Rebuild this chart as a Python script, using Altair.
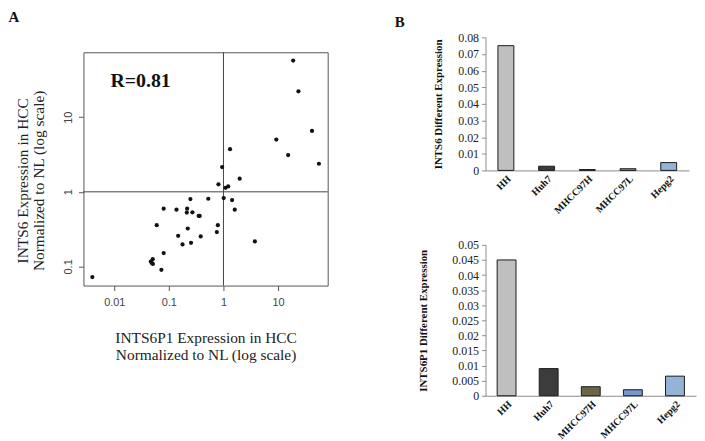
import altair as alt
import pandas as pd

# ---------------- Panel A : scatter (log/log) ----------------
ints6p1_hcc = [18.9, 23.6, 41.8, 9.29, 15.3, 56.0, 1.32, 0.946, 1.98, 0.81,
               1.09, 1.22, 1.01, 1.44, 1.61, 0.527, 0.248, 0.0804, 0.138, 0.216,
               0.213, 0.27, 0.352, 0.367, 0.06, 0.222, 0.789, 0.757, 0.148, 0.383,
               0.178, 0.255, 3.76, 0.0804, 0.0467, 0.0507, 0.0487, 0.051, 0.073, 0.00397]
ints6_hcc = [57.6, 22.3, 6.55, 5.02, 3.11, 2.38, 3.73, 2.15, 1.50, 1.26,
             1.13, 1.18, 0.824, 0.775, 0.576, 0.807, 0.80, 0.594, 0.576, 0.594,
             0.526, 0.531, 0.475, 0.475, 0.357, 0.322, 0.357, 0.288, 0.257, 0.252,
             0.197, 0.207, 0.216, 0.151, 0.116, 0.125, 0.111, 0.108, 0.0898, 0.0718]
ref_line = [1]
r_label = ["R=0.81"]
scatter_x_ticks = [0.01, 0.1, 1, 10]
scatter_y_ticks = [0.1, 1, 10]

# ---------------- Panel B : bar charts ----------------
cell_lines = ["HH", "Huh7", "MHCC97H", "MHCC97L", "Hepg2"]
ints6_diff = [0.075, 0.0025, 0.0005, 0.001, 0.0047]
ints6p1_diff = [0.045, 0.009, 0.003, 0.002, 0.0065]
ints6_colors = ["#bfbfbf", "#3c3c3c", "#6b6548", "#7399cc", "#95b3d7"]
ints6p1_colors = ["#bfbfbf", "#3c3c3c", "#938953", "#558ed5", "#95b3d7"]
ints6_ticks = [0, 0.01, 0.02, 0.03, 0.04, 0.05, 0.06, 0.07, 0.08]
ints6p1_ticks = [0, 0.005, 0.01, 0.015, 0.02, 0.025, 0.03, 0.035, 0.04, 0.045, 0.05]

SERIF = "Liberation Serif"
SANS = "Liberation Sans"

xs = alt.Scale(type="log", domain=[0.00273, 81], nice=False)
ys = alt.Scale(type="log", domain=[0.0553, 74.4], nice=False)

x_axis = alt.Axis(values=scatter_x_ticks, format="~g", grid=False, domain=False,
                  title=["INTS6P1 Expression in HCC", "Normalized to NL (log scale)"],
                  tickColor="#555", tickSize=5, labelColor="#444", labelFont=SANS,
                  labelFontSize=11, labelPadding=6, titleFont=SERIF, titleFontSize=15.5,
                  titleFontWeight="normal", titleColor="#222", titlePadding=23,
                  titleLineHeight=17)
y_axis = alt.Axis(values=scatter_y_ticks, format="~g", grid=False, domain=False,
                  title=["INTS6 Expression in HCC", "Normalized to NL (log scale)"],
                  tickColor="#555", tickSize=5, labelColor="#444", labelFont=SANS,
                  labelFontSize=11, labelPadding=5, labelAngle=270, labelAlign="center",
                  labelBaseline="bottom", titleFont=SERIF, titleFontSize=15.5,
                  titleFontWeight="normal", titleColor="#222", titlePadding=16,
                  titleLineHeight=16, titleY=129)

sc_df = pd.DataFrame({"p1": ints6p1_hcc, "s6": ints6_hcc})
points = alt.Chart(sc_df).mark_circle(size=18, color="#111", opacity=1).encode(
    x=alt.X("p1:Q", scale=xs, axis=x_axis),
    y=alt.Y("s6:Q", scale=ys, axis=y_axis),
)
ref_df = pd.DataFrame({"v": ref_line})
vline = alt.Chart(ref_df).mark_rule(color="#444", strokeWidth=1).encode(
    x=alt.X("v:Q", scale=xs, axis=x_axis))
hline = alt.Chart(ref_df).mark_rule(color="#444", strokeWidth=1).encode(
    y=alt.Y("v:Q", scale=ys, axis=y_axis))
r_text = alt.Chart(pd.DataFrame({"label": r_label})).mark_text(
    font=SERIF, fontSize=20, fontWeight="bold", color="#111", align="left", baseline="middle"
).encode(x=alt.datum(0.0085), y=alt.datum(30.6), text="label:N")

scatter = alt.layer(vline, hline, points, r_text).properties(
    width=246, height=235, view=alt.ViewBackground(stroke="#555", strokeWidth=1))

spacer = alt.Chart(pd.DataFrame({"s": [""]})).mark_text().encode(text="s:N").properties(
    width=246, height=1)

left = alt.vconcat(spacer, scatter, spacing=8).properties(
    title=alt.TitleParams("A", anchor="start", dx=-7, offset=7, font=SERIF, fontSize=15,
                          fontWeight="bold", color="#111"))


def bar_panel(values, colors, ticks, dmax, title, width, height, bar_w, title_pad):
    df = pd.DataFrame({"cell": cell_lines, "value": values})
    return alt.Chart(df).mark_bar(size=bar_w, stroke="#1a1a1a", strokeWidth=1).encode(
        x=alt.X("cell:N", sort=cell_lines, scale=alt.Scale(paddingInner=0, paddingOuter=0),
                axis=alt.Axis(title=None, labelAngle=-45, labelFont=SERIF, labelFontSize=10,
                              labelFontWeight="bold", labelColor="#111", ticks=False,
                              domainColor="#8c8c8c", labelPadding=3)),
        y=alt.Y("value:Q", scale=alt.Scale(domain=[0, dmax], nice=False, zero=True),
                axis=alt.Axis(values=ticks, format="~g", grid=False, title=title,
                              titleFont=SERIF, titleFontSize=11, titleFontWeight="bold",
                              titleColor="#111", titlePadding=title_pad, labelFont=SERIF,
                              labelFontSize=12, labelColor="#222", labelPadding=3,
                              tickSize=4, tickColor="#8c8c8c", domainColor="#8c8c8c")),
        color=alt.Color("cell:N", scale=alt.Scale(domain=cell_lines, range=colors), legend=None),
    ).properties(width=width, height=height)


bar_top = bar_panel(ints6_diff, ints6_colors, ints6_ticks, 0.08,
                    "INTS6 Different Expression", 205, 134, 16, 14)
bar_bottom = bar_panel(ints6p1_diff, ints6p1_colors, ints6p1_ticks, 0.05,
                       "INTS6P1 Different Expression", 212, 152, 19, 23)

right = alt.vconcat(bar_top, bar_bottom, spacing=22).properties(
    title=alt.TitleParams("B", anchor="start", dx=-23, offset=1, font=SERIF, fontSize=15,
                          fontWeight="bold", color="#111"))

chart = alt.hconcat(left, right, spacing=66).properties(padding=0).configure_view(
    stroke="transparent")

chart.save("out.html", embed_options={"renderer": "svg", "actions": False})
